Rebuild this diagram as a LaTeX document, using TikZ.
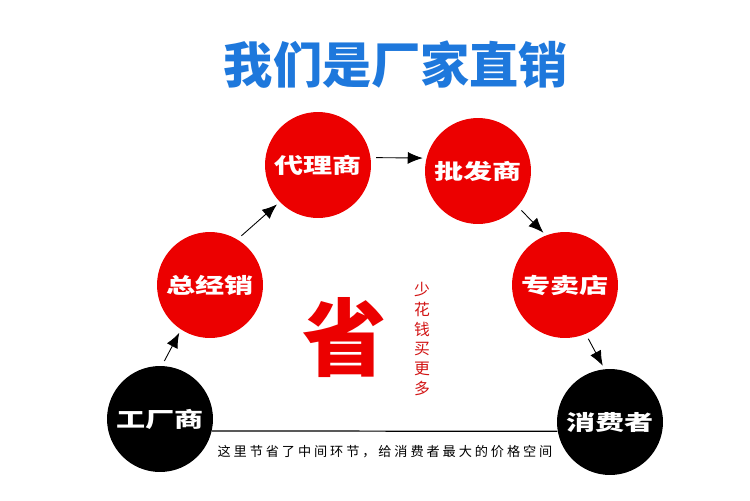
\documentclass[tikz,border=0pt]{standalone}
\usepackage{fontspec}
\usepackage{graphicx}
\setmainfont{Noto Sans CJK SC}
\newfontfamily\notefont[LetterSpace=22]{Noto Sans CJK SC}
\usetikzlibrary{arrows.meta}
\definecolor{titleblue}{RGB}{30,120,220}
\definecolor{ballred}{RGB}{236,0,0}
\definecolor{inkred}{RGB}{210,20,20}
\tikzset{
  ball/.style={circle, minimum size=2.12cm, inner sep=0pt, text=white,
    font=\fontsize{12}{12}\selectfont\bfseries},
  redball/.style={ball, fill=ballred},
  blackball/.style={ball, fill=black},
  flow/.style={-{Latex[length=0.3cm,width=0.24cm]}, line width=0.5pt,
    shorten <=3pt, shorten >=2pt}
}
\newcommand{\wide}[1]{\scalebox{1.38}[1]{#1}}

\begin{document}
\begin{tikzpicture}[x=0.02cm, y=-0.02cm]
 \useasboundingbox[fill=white] (0,0) rectangle (750,500);

 \node[text=titleblue, font=\fontsize{28}{28}\selectfont\bfseries] (title) at (396,65) {我们是厂家直销};

 \node[redball]   (dls) at (318,165) {\wide{代理商}};
 \node[redball]   (pfs) at (478,171) {\wide{批发商}};
 \node[redball]   (zjx) at (210,285) {\wide{总经销}};
 \node[redball]   (zmd) at (565,285) {\wide{专卖店}};
 \node[blackball] (gcs) at (160,419) {\wide{工厂商}};
 \node[blackball] (xfz) at (610,422) {\wide{消费者}};

 \draw[flow] (gcs.88) -- (zjx.237);
 \draw[flow] (zjx.59) -- (dls.224);
 \draw[flow] (dls.8) -- (pfs.166);
 \draw[flow] (pfs.-42) -- (zmd.111);
 \draw[flow] (zmd.-67) -- (xfz.96);

 % direct way
 \draw[line width=0.7pt] (gcs.-13) -- (xfz.190);
 \node[font=\notefont\fontsize{7.5}{7.5}\selectfont] (note) at (385,452) {这里节省了中间环节，给消费者最大的价格空间};

 \node[text=ballred, font=\fontsize{48}{48}\selectfont\bfseries] (sheng) at (345,338) {省};
 \node[text=inkred, font=\fontsize{9}{11.3}\selectfont, align=center, inner sep=0pt] (slogan) at (422,339)
   {少\\花\\钱\\买\\更\\多};
\end{tikzpicture}
\end{document}
